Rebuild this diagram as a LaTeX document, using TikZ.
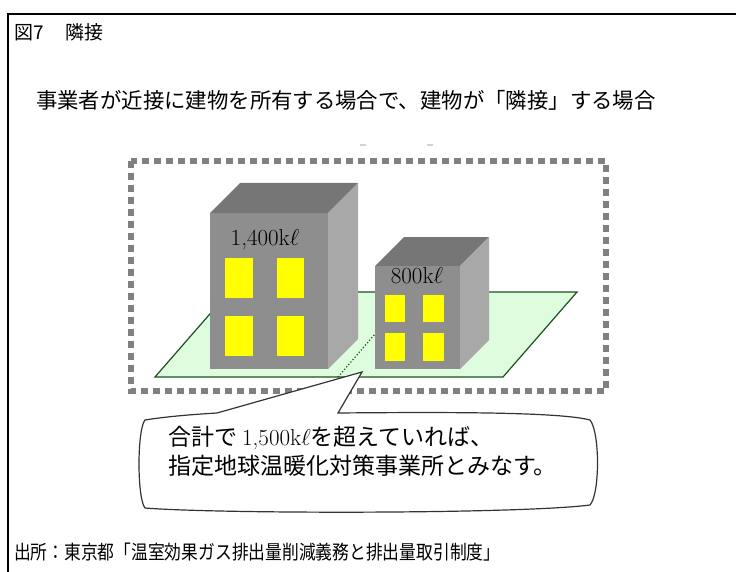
\documentclass[tikz,border=0pt]{standalone}
\usepackage{fix-cm}
\usepackage{fontspec}
\newfontfamily\jp{Noto Sans CJK JP}
\newfontfamily\jpnarrow[FakeStretch=0.86]{Noto Sans CJK JP}

\definecolor{wallfront}{RGB}{142,142,142}
\definecolor{walltop}{RGB}{118,118,118}
\definecolor{wallside}{RGB}{168,168,168}
\definecolor{lot}{RGB}{222,252,222}
\definecolor{lotedge}{RGB}{30,80,30}
\definecolor{fence}{RGB}{128,128,128}
\definecolor{winyellow}{RGB}{255,255,0}

\begin{document}
\begin{tikzpicture}[
		x=1pt, y=-1pt,
		every node/.style={inner sep=0pt, outer sep=0pt},
		front/.style={fill=wallfront},
		roof/.style={fill=walltop},
		side/.style={fill=wallside},
		win/.style={fill=winyellow},
		jtext/.style={anchor=west, font=\jp\fontsize{#1}{#1}\selectfont},
		qty/.style={font=\fontsize{23}{23}\selectfont}
	]
  \useasboundingbox (0,0) rectangle (736,572);
  \draw[line width=1.5pt] (8,572) -- (8,14) -- (736,14);

  \node[jtext=19] (fig) at (14,32) {図7\hspace{22pt}隣接};
  \node[jtext=21.4] (case) at (36,100) {事業者が近接に建物を所有する場合で、建物が「隣接」する場合};

  % site boundary
  \draw[fence, line width=6pt, dash pattern=on 7pt off 5pt] (131,161) rectangle (606,391);
  \draw[gray!35, line width=1.5pt] (360,145) -- (366,145);
  \draw[gray!35, line width=1.5pt] (427,145) -- (433,145);

  % ground with the lot line
  \draw[fill=lot, draw=lotedge, line width=1.2pt] (155,377) -- (503,377) -- (577,292) -- (229,292) -- cycle;
  \draw[lotedge, dotted, line width=1.2pt] (338,377) -- (375,334);

  % tall building
  \fill[roof] (210,213) -- (240,183) -- (358,183) -- (328,213) -- cycle;
  \fill[side] (328,213) -- (358,183) -- (358,339) -- (328,369) -- cycle;
  \fill[front] (210,213) rectangle (328,369);
  \fill[win] (225,258) rectangle (253,298);
  \fill[win] (277,258) rectangle (304,298);
  \fill[win] (225,316) rectangle (253,356);
  \fill[win] (277,316) rectangle (304,356);
  \node[qty] (bigload) at (265,240) {1,400k$\ell$};

  % small building
  \fill[roof] (375,266) -- (404,237) -- (489,237) -- (460,266) -- cycle;
  \fill[side] (460,266) -- (489,237) -- (489,340) -- (460,369) -- cycle;
  \fill[front] (375,266) rectangle (460,369);
  \fill[win] (385,295) rectangle (405,322);
  \fill[win] (423,295) rectangle (444,322);
  \fill[win] (385,333) rectangle (405,361);
  \fill[win] (423,333) rectangle (444,361);
  \node[qty] (smallload) at (417,276) {800k$\ell$};

  % callout
  \draw[fill=white, draw=black!80, line width=1.2pt]
    (217,413) -- (362,372) -- (338,413)
    .. controls (450,412) and (560,412) .. (590,420)
    .. controls (600,432) and (600,494) .. (590,505)
    .. controls (520,514) and (220,514) .. (145,508)
    .. controls (137,498) and (137,430) .. (145,420)
    .. controls (170,416) and (200,414) .. (217,413) -- cycle;
  \node[jtext=23] (sumline) at (168,438) {合計で {\rmfamily 1,500k$\ell$}を超えていれば、};
  \node[jtext=23] (deemline) at (168,466) {指定地球温暖化対策事業所とみなす。};

  \node[anchor=west, font=\jpnarrow\fontsize{19.5}{19.5}\selectfont] (source) at (14,552)
    {出所：東京都「温室効果ガス排出量削減義務と排出量取引制度」};
\end{tikzpicture}
\end{document}
